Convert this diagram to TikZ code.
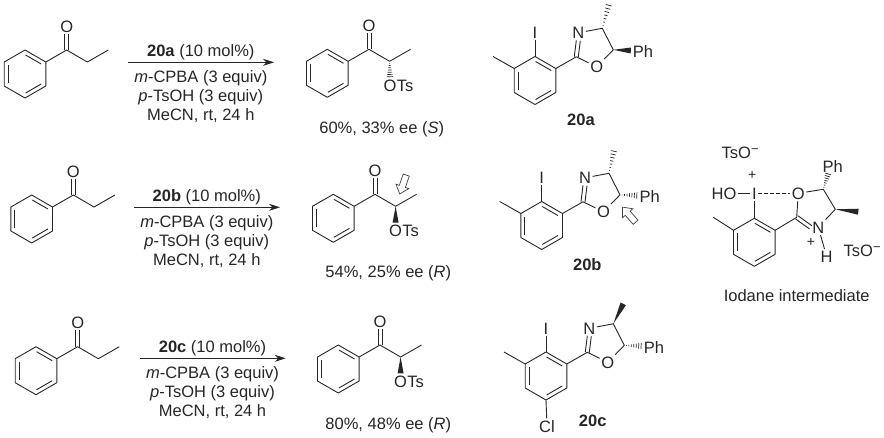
\documentclass[tikz,border=0pt]{standalone}
\usepackage{fontspec}
\setmainfont{Liberation Sans}
\usetikzlibrary{calc,positioning,arrows.meta}

\tikzset{
  bond/.style={line width=0.9pt,line join=round,draw=black!85},
  txt/.style={font=\fontsize{16.5}{18}\selectfont,inner sep=0pt,text height=12pt,text depth=0pt,text=black!85},
  atom/.style={font=\fontsize{16.5}{18}\selectfont,inner sep=1.5pt,text height=12pt,text depth=0pt,text=black!85},
  charge/.style={font=\fontsize{14}{14}\selectfont,inner sep=0pt,text height=7pt,text depth=0pt,text=black!85},
  rxn/.style={line width=0.9pt,draw=black!85,-{Stealth[length=11pt,width=7pt]}},
  openarrow/.style={draw=black!75,line width=0.7pt,line join=miter}
}

\newcommand{\kekring}[1]{
\draw[bond] (0,-24) -- (20.8,-12) -- (20.8,12) -- (0,24) -- (-20.8,12) -- (-20.8,-12) -- cycle;
\draw[bond] (0.6,-19) -- (16.2,-10);
\draw[bond] (-16.8,-9) -- (-16.8,9);
\draw[bond] (0.6,19) -- (16.2,10);
\coordinate (#1) at (20.8,-12);
}

\newcommand{\dblbond}[2]{
\draw[bond] ($(#1)!2pt!90:(#2)$) -- ($(#2)!2pt!-90:(#1)$);
\draw[bond] ($(#1)!2pt!-90:(#2)$) -- ($(#2)!2pt!90:(#1)$);
}

\newcommand{\ketone}[2]{
\begin{scope}[shift={(#2)},name prefix=#1-]
\kekring{ipso}
\coordinate (co) at (41.7,-24);
\coordinate (ca) at (62.3,-12);
\coordinate (me) at (83.3,-24);
\node[atom] (o) at (41.7,-48) {O};
\draw[bond] (ipso) -- (co) -- (ca) -- (me);
\dblbond{co}{o.south}
\end{scope}
}

\newcommand{\aryloxaz}[2]{
\begin{scope}[shift={(#2)},name prefix=#1-]
\kekring{ipso}
\coordinate (top) at (0,-24);
\coordinate (ul) at (-20.8,-12);
\coordinate (bot) at (0,24);
\coordinate (me) at (-42,-24);
\coordinate (c2) at (41.3,-23.7);
\coordinate (c4) at (67.3,-52.2);
\coordinate (c5) at (78.3,-30.7);
\node[atom] (i) at (0,-48) {I};
\node[atom] (n) at (43.3,-47.7) {N};
\node[atom] (o) at (61.8,-13.7) {O};
\node[atom] (ph) at (108,-28.7) {Ph};
\draw[bond] (top) -- (i);
\draw[bond] (ul) -- (me);
\draw[bond] (ipso) -- (c2) -- (o) -- (c5) -- (c4) -- (n);
\dblbond{c2}{n.south}
\end{scope}
}

\newcommand{\reagents}[3]{
\begin{scope}[shift={(#2)},name prefix=#1-]
\node[txt] (cat) at (0,0) {\textbf{#3} (10 mol\%)};
\node[txt] (mc) at (0,26) {\textit{m}-CPBA (3 equiv)};
\node[txt] (ts) at (0,45) {\textit{p}-TsOH (3 equiv)};
\node[txt] (me) at (0,64) {MeCN, rt, 24 h};
\coordinate (s) at (-72.8,12.3);
\coordinate (e) at (73.2,12.3);
\draw[rxn] (s) -- (e);
\end{scope}
}

\newcommand{\hashbond}[2]{
\foreach \t in {0.12,0.26,...,1.0}{
\pgfmathsetmacro\h{\t*3.2}
\draw[line width=0.7pt,draw=black!85] ($(#1)!\t!(#2)!\h pt!90:(#2)$) -- ($(#1)!\t!(#2)!\h pt!-90:(#2)$);
}
}

\newcommand{\wedgebond}[2]{
\fill[black!85] ($(#1)$) -- ($(#2)!3pt!90:(#1)$) -- ($(#2)!3pt!-90:(#1)$) -- cycle;
}

\newcommand{\openarr}[2]{
\draw[openarrow,shift={(#1)},rotate=#2] (-10,-3.2) -- (2,-3.2) -- (2,-6.8) -- (10,0) -- (2,6.8) -- (2,3.2) -- (-10,3.2) -- cycle;
}

\begin{document}
\begin{tikzpicture}[x=1pt,y=-1pt]
\useasboundingbox (0,0) rectangle (884,437);

\ketone{sma}{25,74}
\ketone{smb}{31.7,219}
\ketone{smc}{36,370.7}

\reagents{ra}{200.8,50}{20a}
\reagents{rb}{206.8,195}{20b}
\reagents{rc}{212.5,346}{20c}

\ketone{pa}{327.3,73.3}
\node[atom] (pao) at (390,85) {O};
\node[atom,inner sep=0pt] (pats) [right=-1.5pt of pao] {Ts};
\hashbond{pa-ca}{pao.north}

\ketone{pb}{333.3,218.3}
\node[atom] (pbo) at (395.6,230.3) {O};
\node[atom,inner sep=0pt] (pbts) [right=-1.5pt of pbo] {Ts};
\wedgebond{pb-ca}{pbo.north}

\ketone{pc}{338.3,369}
\node[atom] (pco) at (400.6,381) {O};
\node[atom,inner sep=0pt] (pcts) [right=-1.5pt of pco] {Ts};
\wedgebond{pc-ca}{pco.north}

\node[txt] (ya) at (381.7,127) {60\%, 33\% ee (\textit{S})};
\node[txt] (yb) at (388.3,271.7) {54\%, 25\% ee (\textit{R})};
\node[txt] (yc) at (388.3,423) {80\%, 48\% ee (\textit{R})};

\aryloxaz{a}{535,80.5}
\coordinate (ame) at ($(a-c4)+(6.7,-24)$);
\coordinate (aph) at ($(a-c5)+(17.5,0.7)$);
\hashbond{a-c4}{ame}
\wedgebond{a-c5}{aph}
\node[txt] (la) at (581,119.3) {\textbf{20a}};

\aryloxaz{b}{541.7,225.5}
\coordinate (bme) at ($(b-c4)+(5,-23)$);
\coordinate (bph) at ($(b-c5)+(17.5,0.7)$);
\hashbond{b-c4}{bme}
\hashbond{b-c5}{bph}
\node[txt] (lb) at (587.3,264.3) {\textbf{20b}};

\aryloxaz{c}{546,376}
\coordinate (cme) at ($(c-c4)+(10,-20)$);
\coordinate (cph) at ($(c-c5)+(17.5,0.7)$);
\wedgebond{c-c4}{cme}
\hashbond{c-c5}{cph}
\node[atom] (ccl) at (547,426) {Cl};
\draw[bond] (c-bot) -- (ccl);
\node[txt] (lc) at (592.7,420.7) {\textbf{20c}};

\openarr{403,184.5}{251}
\openarr{629,214.7}{131}

\begin{scope}[shift={(754.3,242.3)},name prefix=im-]
\kekring{ipso}
\coordinate (top) at (0,-24);
\coordinate (ul) at (-20.8,-12);
\coordinate (me) at (-41,-25);
\coordinate (c2) at (42.4,-25);
\coordinate (c4) at (81,-33);
\coordinate (c5) at (69,-53);
\coordinate (mew) at (104,-30.6);
\coordinate (phb) at (74,-69);
\node[atom] (i) at (0,-49) {I};
\node[atom] (o) at (44,-49) {O};
\node[atom] (n) at (64,-15) {N};
\node[atom] (h) at (72.4,14.4) {H};
\node[atom] (ho) at (-30.3,-49) {HO};
\draw[bond] (top) -- (i);
\draw[bond] (ul) -- (me);
\draw[bond] (ipso) -- (c2) -- (o) -- (c5) -- (c4) -- (n);
\dblbond{c2}{n.west}
\draw[bond] (n) -- (h);
\draw[bond] (ho) -- (i);
\draw[bond,dash pattern=on 3.5pt off 2.5pt] (i) -- (o);
\end{scope}
\hashbond{im-c5}{im-phb}
\wedgebond{im-c4}{im-mew}
\node[atom] (imph) at (832.7,166) {Ph};
\node[charge] (impi) at (752.3,176) {+};
\node[charge] (impn) at (811,242.5) {+};
\node[atom,anchor=west,inner sep=0pt] (tsa) at (721.5,152.7) {TsO\raisebox{5pt}{\fontsize{13}{13}\selectfont −}};
\node[atom,anchor=west,inner sep=0pt] (tsb) at (843.5,250) {TsO\raisebox{5pt}{\fontsize{13}{13}\selectfont −}};
\node[txt] (liod) at (796.7,295.7) {Iodane intermediate};

\end{tikzpicture}
\end{document}
